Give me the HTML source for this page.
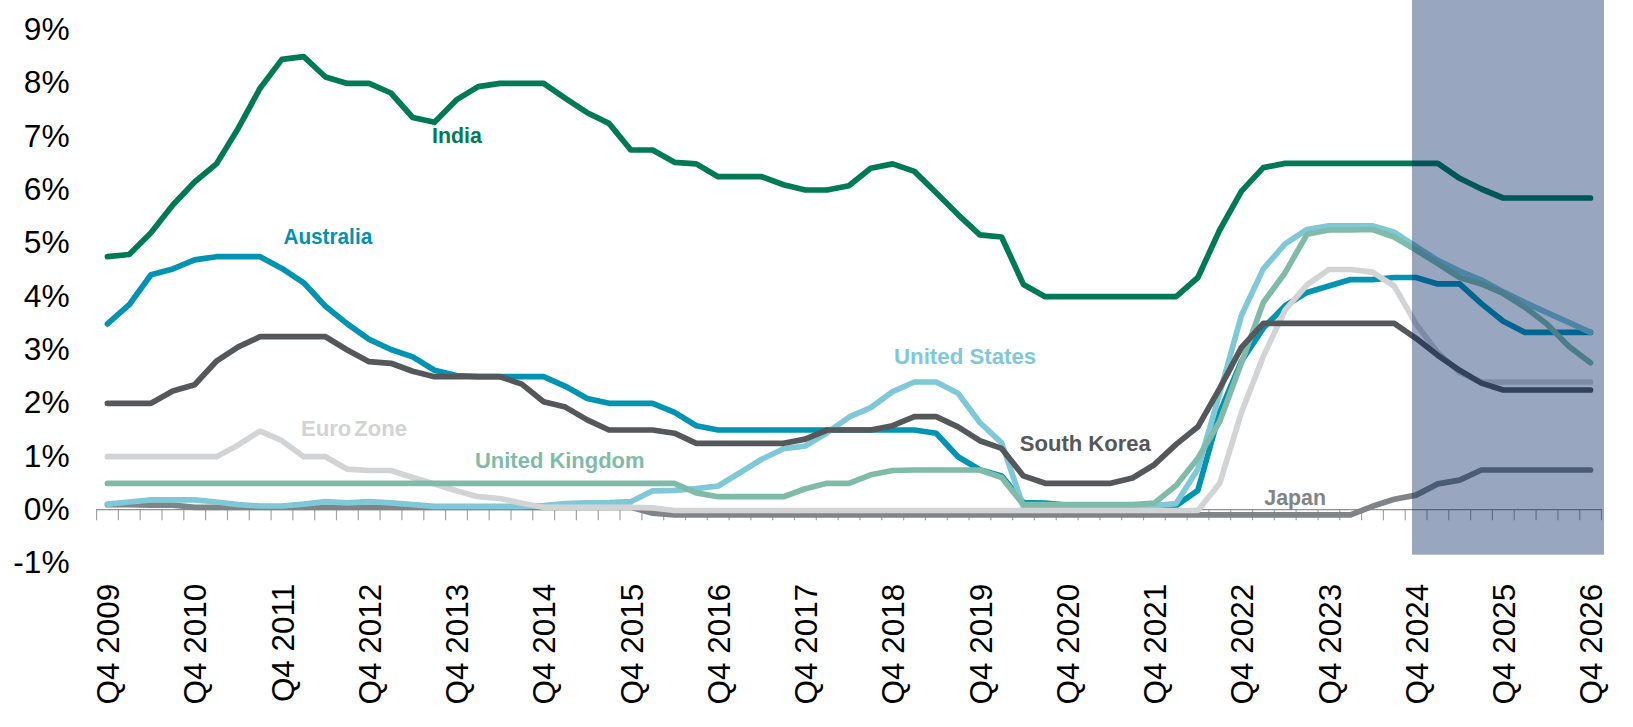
<!DOCTYPE html><html><head><meta charset="utf-8"><title>Policy rates</title><style>html,body{margin:0;padding:0;background:#fff}svg{display:block}</style></head><body><svg width="1633" height="727" viewBox="0 0 1633 727" font-family="'Liberation Sans', sans-serif">
<rect width="1633" height="727" fill="#fff"/>
<path d="M96.6 509.6V520.2M118.4 509.6V520.2M140.2 509.6V520.2M162.0 509.6V520.2M183.8 509.6V520.2M205.6 509.6V520.2M227.5 509.6V520.2M249.3 509.6V520.2M271.1 509.6V520.2M292.9 509.6V520.2M314.7 509.6V520.2M336.5 509.6V520.2M358.3 509.6V520.2M380.1 509.6V520.2M401.9 509.6V520.2M423.8 509.6V520.2M445.6 509.6V520.2M467.4 509.6V520.2M489.2 509.6V520.2M511.0 509.6V520.2M532.8 509.6V520.2M554.6 509.6V520.2M576.4 509.6V520.2M598.2 509.6V520.2M620.0 509.6V520.2M641.9 509.6V520.2M663.7 509.6V520.2M685.5 509.6V520.2M707.3 509.6V520.2M729.1 509.6V520.2M750.9 509.6V520.2M772.7 509.6V520.2M794.5 509.6V520.2M816.3 509.6V520.2M838.1 509.6V520.2M859.9 509.6V520.2M881.8 509.6V520.2M903.6 509.6V520.2M925.4 509.6V520.2M947.2 509.6V520.2M969.0 509.6V520.2M990.8 509.6V520.2M1012.6 509.6V520.2M1034.4 509.6V520.2M1056.2 509.6V520.2M1078.0 509.6V520.2M1099.9 509.6V520.2M1121.7 509.6V520.2M1143.5 509.6V520.2M1165.3 509.6V520.2M1187.1 509.6V520.2M1208.9 509.6V520.2M1230.7 509.6V520.2M1252.5 509.6V520.2M1274.3 509.6V520.2M1296.1 509.6V520.2M1318.0 509.6V520.2M1339.8 509.6V520.2M1361.6 509.6V520.2M1383.4 509.6V520.2M1405.2 509.6V520.2M1427.0 509.6V520.2M1448.8 509.6V520.2M1470.6 509.6V520.2M1492.4 509.6V520.2M1514.2 509.6V520.2M1536.1 509.6V520.2M1557.9 509.6V520.2M1579.7 509.6V520.2M1601.5 509.6V520.2" stroke="#a4a4a4" stroke-width="1.2" fill="none"/>
<path d="M96.1 509.6H1602.1" stroke="#909090" stroke-width="1.1" fill="none"/>
<polyline points="107.4,504.7 129.2,504.7 151.0,505.2 172.8,505.2 194.6,507.3 216.4,507.3 238.3,507.3 260.1,507.3 281.9,507.3 303.7,507.3 325.5,507.3 347.3,507.3 369.1,507.3 390.9,507.3 412.7,507.3 434.5,507.3 456.4,507.3 478.2,507.3 500.0,507.3 521.8,507.3 543.6,507.3 565.4,507.3 587.2,507.3 609.0,507.3 630.8,507.3 652.6,513.2 674.5,514.8 696.3,514.8 718.1,514.8 739.9,514.8 761.7,514.8 783.5,514.8 805.3,514.8 827.1,514.8 848.9,514.8 870.7,514.8 892.6,514.8 914.4,514.8 936.2,514.8 958.0,514.8 979.8,514.8 1001.6,514.8 1023.4,514.8 1045.2,514.8 1067.0,514.8 1088.8,514.8 1110.7,514.8 1132.5,514.8 1154.3,514.8 1176.1,514.8 1197.9,514.8 1219.7,514.8 1241.5,514.8 1263.3,514.8 1285.1,514.8 1307.0,514.8 1328.8,514.8 1350.6,514.8 1372.4,506.3 1394.2,499.3 1416.0,495.1 1437.8,483.9 1459.6,480.1 1481.4,470.0 1503.2,470.0 1525.0,470.0 1546.9,470.0 1568.7,470.0 1590.5,470.0" fill="none" stroke="#7f8486" stroke-width="5.7" stroke-linecap="round" stroke-linejoin="round"/>
<polyline points="107.4,323.9 129.2,304.7 151.0,274.8 172.8,268.9 194.6,259.9 216.4,256.7 238.3,256.7 260.1,256.7 281.9,268.4 303.7,282.8 325.5,306.3 347.3,323.9 369.1,339.3 390.9,349.5 412.7,356.9 434.5,370.3 456.4,375.6 478.2,376.7 500.0,376.7 521.8,376.7 543.6,376.7 565.4,386.3 587.2,398.5 609.0,403.3 630.8,403.3 652.6,403.3 674.5,412.4 696.3,425.7 718.1,430.0 739.9,430.0 761.7,430.0 783.5,430.0 805.3,430.0 827.1,430.0 848.9,430.0 870.7,430.0 892.6,430.0 914.4,430.0 936.2,433.2 958.0,456.7 979.8,469.7 1001.6,475.9 1023.4,502.5 1045.2,503.1 1067.0,505.2 1088.8,507.3 1110.7,507.3 1132.5,507.3 1154.3,507.3 1176.1,505.7 1197.9,490.3 1219.7,412.4 1241.5,361.2 1263.3,328.1 1285.1,305.7 1307.0,292.4 1328.8,286.0 1350.6,279.6 1372.4,279.6 1394.2,277.5 1416.0,277.5 1437.8,283.9 1459.6,283.9 1481.4,303.6 1503.2,321.2 1525.0,332.4 1546.9,332.4 1568.7,332.4 1590.5,332.4" fill="none" stroke="#0093b2" stroke-width="5.7" stroke-linecap="round" stroke-linejoin="round"/>
<polyline points="107.4,504.1 129.2,502.0 151.0,499.9 172.8,499.9 194.6,499.9 216.4,502.0 238.3,504.7 260.1,506.0 281.9,506.0 303.7,504.1 325.5,501.6 347.3,502.8 369.1,501.6 390.9,502.8 412.7,504.7 434.5,506.3 456.4,506.3 478.2,506.3 500.0,506.3 521.8,506.3 543.6,505.7 565.4,503.6 587.2,502.8 609.0,502.5 630.8,501.7 652.6,490.8 674.5,490.3 696.3,488.7 718.1,486.0 739.9,472.7 761.7,459.3 783.5,448.7 805.3,446.0 827.1,432.7 848.9,417.2 870.7,407.6 892.6,391.6 914.4,382.0 936.2,382.0 958.0,393.2 979.8,422.5 1001.6,442.8 1023.4,506.8 1045.2,505.2 1067.0,505.2 1088.8,505.7 1110.7,506.3 1132.5,505.2 1154.3,505.7 1176.1,503.6 1197.9,468.9 1219.7,393.2 1241.5,315.3 1263.3,268.9 1285.1,243.9 1307.0,229.5 1328.8,225.8 1350.6,225.8 1372.4,225.8 1394.2,232.2 1416.0,246.3 1437.8,260.4 1459.6,271.1 1481.4,280.1 1503.2,291.9 1525.0,302.5 1546.9,312.7 1568.7,322.3 1590.5,332.4" fill="none" stroke="#7fc8d8" stroke-width="5.7" stroke-linecap="round" stroke-linejoin="round"/>
<polyline points="107.4,456.7 129.2,456.7 151.0,456.7 172.8,456.7 194.6,456.7 216.4,456.7 238.3,444.9 260.1,431.1 281.9,440.7 303.7,456.7 325.5,456.7 347.3,469.2 369.1,470.5 390.9,470.5 412.7,477.5 434.5,483.9 456.4,490.8 478.2,496.7 500.0,498.5 521.8,503.2 543.6,507.3 565.4,507.3 587.2,507.3 609.0,507.3 630.8,507.3 652.6,507.9 674.5,510.5 696.3,510.5 718.1,510.5 739.9,510.5 761.7,510.5 783.5,510.5 805.3,510.5 827.1,510.5 848.9,510.5 870.7,510.5 892.6,510.5 914.4,510.5 936.2,510.5 958.0,510.5 979.8,510.5 1001.6,510.5 1023.4,510.5 1045.2,510.5 1067.0,510.5 1088.8,510.5 1110.7,510.5 1132.5,510.5 1154.3,510.5 1176.1,510.5 1197.9,510.5 1219.7,483.3 1241.5,412.4 1263.3,356.4 1285.1,310.0 1307.0,284.9 1328.8,269.5 1350.6,269.5 1372.4,272.1 1394.2,286.0 1416.0,323.9 1437.8,352.7 1459.6,372.4 1481.4,382.0 1503.2,382.0 1525.0,382.0 1546.9,382.0 1568.7,382.0 1590.5,382.0" fill="none" stroke="#d2d3d5" stroke-width="5.7" stroke-linecap="round" stroke-linejoin="round"/>
<polyline points="107.4,483.3 129.2,483.3 151.0,483.3 172.8,483.3 194.6,483.3 216.4,483.3 238.3,483.3 260.1,483.3 281.9,483.3 303.7,483.3 325.5,483.3 347.3,483.3 369.1,483.3 390.9,483.3 412.7,483.3 434.5,483.3 456.4,483.3 478.2,483.3 500.0,483.3 521.8,483.3 543.6,483.3 565.4,483.3 587.2,483.3 609.0,483.3 630.8,483.3 652.6,483.3 674.5,483.3 696.3,492.9 718.1,496.7 739.9,496.7 761.7,496.7 783.5,496.7 805.3,488.7 827.1,483.3 848.9,483.3 870.7,474.8 892.6,470.5 914.4,470.0 936.2,470.0 958.0,470.0 979.8,470.0 1001.6,477.5 1023.4,504.7 1045.2,504.7 1067.0,504.7 1088.8,504.7 1110.7,504.7 1132.5,504.7 1154.3,503.1 1176.1,485.5 1197.9,458.3 1219.7,421.5 1241.5,362.8 1263.3,302.5 1285.1,272.7 1307.0,234.3 1328.8,230.0 1350.6,230.0 1372.4,229.5 1394.2,237.0 1416.0,250.0 1437.8,263.6 1459.6,277.5 1481.4,283.9 1503.2,293.5 1525.0,307.3 1546.9,323.9 1568.7,346.3 1590.5,362.8" fill="none" stroke="#7fbba8" stroke-width="5.7" stroke-linecap="round" stroke-linejoin="round"/>
<polyline points="107.4,403.3 129.2,403.3 151.0,403.3 172.8,391.1 194.6,384.7 216.4,361.2 238.3,346.8 260.1,336.7 281.9,336.7 303.7,336.7 325.5,336.7 347.3,350.0 369.1,361.7 390.9,363.3 412.7,371.3 434.5,376.7 456.4,376.7 478.2,376.7 500.0,376.7 521.8,384.1 543.6,401.7 565.4,407.1 587.2,419.9 609.0,430.0 630.8,430.0 652.6,430.0 674.5,433.2 696.3,443.3 718.1,443.3 739.9,443.3 761.7,443.3 783.5,443.3 805.3,439.1 827.1,430.0 848.9,430.0 870.7,430.0 892.6,425.7 914.4,416.7 936.2,416.7 958.0,426.8 979.8,440.7 1001.6,448.4 1023.4,475.9 1045.2,483.3 1067.0,483.3 1088.8,483.3 1110.7,483.3 1132.5,478.0 1154.3,464.7 1176.1,444.4 1197.9,426.8 1219.7,388.4 1241.5,347.3 1263.3,323.3 1285.1,323.3 1307.0,323.3 1328.8,323.3 1350.6,323.3 1372.4,323.3 1394.2,323.3 1416.0,338.3 1437.8,355.3 1459.6,370.3 1481.4,383.1 1503.2,390.0 1525.0,390.0 1546.9,390.0 1568.7,390.0 1590.5,390.0" fill="none" stroke="#54585a" stroke-width="5.7" stroke-linecap="round" stroke-linejoin="round"/>
<polyline points="107.4,256.7 129.2,254.5 151.0,232.7 172.8,205.0 194.6,182.0 216.4,163.9 238.3,128.2 260.1,88.2 281.9,59.4 303.7,56.7 325.5,77.0 347.3,83.4 369.1,83.4 390.9,93.0 412.7,117.5 434.5,122.3 456.4,99.9 478.2,86.6 500.0,83.4 521.8,83.4 543.6,83.4 565.4,98.3 587.2,112.7 609.0,123.4 630.8,150.0 652.6,150.0 674.5,162.3 696.3,163.9 718.1,176.7 739.9,176.7 761.7,176.7 783.5,184.7 805.3,190.0 827.1,190.0 848.9,185.8 870.7,168.2 892.6,163.9 914.4,171.4 936.2,192.7 958.0,214.6 979.8,234.8 1001.6,237.0 1023.4,284.4 1045.2,296.7 1067.0,296.7 1088.8,296.7 1110.7,296.7 1132.5,296.7 1154.3,296.7 1176.1,296.7 1197.9,277.5 1219.7,230.0 1241.5,191.1 1263.3,167.6 1285.1,163.4 1307.0,163.4 1328.8,163.4 1350.6,163.4 1372.4,163.4 1394.2,163.4 1416.0,163.4 1437.8,163.4 1459.6,178.3 1481.4,189.0 1503.2,198.0 1525.0,198.0 1546.9,198.0 1568.7,198.0 1590.5,198.0" fill="none" stroke="#007a55" stroke-width="5.7" stroke-linecap="round" stroke-linejoin="round"/>
<text x="69.6" y="573.1" font-size="30.5" text-anchor="end" textLength="56.3" lengthAdjust="spacingAndGlyphs" fill="#000">-1%</text>
<text x="69.6" y="519.8" font-size="30.5" text-anchor="end" textLength="45.8" lengthAdjust="spacingAndGlyphs" fill="#000">0%</text>
<text x="69.6" y="466.5" font-size="30.5" text-anchor="end" textLength="45.8" lengthAdjust="spacingAndGlyphs" fill="#000">1%</text>
<text x="69.6" y="413.2" font-size="30.5" text-anchor="end" textLength="45.8" lengthAdjust="spacingAndGlyphs" fill="#000">2%</text>
<text x="69.6" y="359.9" font-size="30.5" text-anchor="end" textLength="45.8" lengthAdjust="spacingAndGlyphs" fill="#000">3%</text>
<text x="69.6" y="306.6" font-size="30.5" text-anchor="end" textLength="45.8" lengthAdjust="spacingAndGlyphs" fill="#000">4%</text>
<text x="69.6" y="253.3" font-size="30.5" text-anchor="end" textLength="45.8" lengthAdjust="spacingAndGlyphs" fill="#000">5%</text>
<text x="69.6" y="200.0" font-size="30.5" text-anchor="end" textLength="45.8" lengthAdjust="spacingAndGlyphs" fill="#000">6%</text>
<text x="69.6" y="146.7" font-size="30.5" text-anchor="end" textLength="45.8" lengthAdjust="spacingAndGlyphs" fill="#000">7%</text>
<text x="69.6" y="93.4" font-size="30.5" text-anchor="end" textLength="45.8" lengthAdjust="spacingAndGlyphs" fill="#000">8%</text>
<text x="69.6" y="40.1" font-size="30.5" text-anchor="end" textLength="45.8" lengthAdjust="spacingAndGlyphs" fill="#000">9%</text>
<text transform="translate(119.2,583.9) rotate(-90)" font-size="30.5" text-anchor="end" textLength="120.5" lengthAdjust="spacingAndGlyphs" fill="#000">Q4 2009</text>
<text transform="translate(206.4,583.9) rotate(-90)" font-size="30.5" text-anchor="end" textLength="120.5" lengthAdjust="spacingAndGlyphs" fill="#000">Q4 2010</text>
<text transform="translate(293.7,583.9) rotate(-90)" font-size="30.5" text-anchor="end" textLength="118.2" lengthAdjust="spacingAndGlyphs" fill="#000">Q4 2011</text>
<text transform="translate(380.9,583.9) rotate(-90)" font-size="30.5" text-anchor="end" textLength="120.5" lengthAdjust="spacingAndGlyphs" fill="#000">Q4 2012</text>
<text transform="translate(468.2,583.9) rotate(-90)" font-size="30.5" text-anchor="end" textLength="120.5" lengthAdjust="spacingAndGlyphs" fill="#000">Q4 2013</text>
<text transform="translate(555.4,583.9) rotate(-90)" font-size="30.5" text-anchor="end" textLength="120.5" lengthAdjust="spacingAndGlyphs" fill="#000">Q4 2014</text>
<text transform="translate(642.6,583.9) rotate(-90)" font-size="30.5" text-anchor="end" textLength="120.5" lengthAdjust="spacingAndGlyphs" fill="#000">Q4 2015</text>
<text transform="translate(729.9,583.9) rotate(-90)" font-size="30.5" text-anchor="end" textLength="120.5" lengthAdjust="spacingAndGlyphs" fill="#000">Q4 2016</text>
<text transform="translate(817.1,583.9) rotate(-90)" font-size="30.5" text-anchor="end" textLength="120.5" lengthAdjust="spacingAndGlyphs" fill="#000">Q4 2017</text>
<text transform="translate(904.4,583.9) rotate(-90)" font-size="30.5" text-anchor="end" textLength="120.5" lengthAdjust="spacingAndGlyphs" fill="#000">Q4 2018</text>
<text transform="translate(991.6,583.9) rotate(-90)" font-size="30.5" text-anchor="end" textLength="120.5" lengthAdjust="spacingAndGlyphs" fill="#000">Q4 2019</text>
<text transform="translate(1078.8,583.9) rotate(-90)" font-size="30.5" text-anchor="end" textLength="120.5" lengthAdjust="spacingAndGlyphs" fill="#000">Q4 2020</text>
<text transform="translate(1166.1,583.9) rotate(-90)" font-size="30.5" text-anchor="end" textLength="120.5" lengthAdjust="spacingAndGlyphs" fill="#000">Q4 2021</text>
<text transform="translate(1253.3,583.9) rotate(-90)" font-size="30.5" text-anchor="end" textLength="120.5" lengthAdjust="spacingAndGlyphs" fill="#000">Q4 2022</text>
<text transform="translate(1340.6,583.9) rotate(-90)" font-size="30.5" text-anchor="end" textLength="120.5" lengthAdjust="spacingAndGlyphs" fill="#000">Q4 2023</text>
<text transform="translate(1427.8,583.9) rotate(-90)" font-size="30.5" text-anchor="end" textLength="120.5" lengthAdjust="spacingAndGlyphs" fill="#000">Q4 2024</text>
<text transform="translate(1515.0,583.9) rotate(-90)" font-size="30.5" text-anchor="end" textLength="120.5" lengthAdjust="spacingAndGlyphs" fill="#000">Q4 2025</text>
<text transform="translate(1602.3,583.9) rotate(-90)" font-size="30.5" text-anchor="end" textLength="120.5" lengthAdjust="spacingAndGlyphs" fill="#000">Q4 2026</text>
<text x="432.0" y="142.6" font-size="22.2" font-weight="bold" textLength="49.8" lengthAdjust="spacingAndGlyphs" fill="#007a55">India</text>
<text x="283.4" y="243.7" font-size="22.2" font-weight="bold" textLength="88.8" lengthAdjust="spacingAndGlyphs" fill="#0093b2">Australia</text>
<text x="894.0" y="364.1" font-size="22.2" font-weight="bold" textLength="142.2" lengthAdjust="spacingAndGlyphs" fill="#7fc8d8">United States</text>
<text x="301.0" y="436.0" font-size="22.2" font-weight="bold" textLength="106.0" lengthAdjust="spacingAndGlyphs" word-spacing="-3.2" fill="#d2d3d5">Euro Zone</text>
<text x="475.0" y="467.9" font-size="22.2" font-weight="bold" textLength="169.5" lengthAdjust="spacingAndGlyphs" fill="#7fbba8">United Kingdom</text>
<text x="1019.8" y="451.0" font-size="22.2" font-weight="bold" textLength="130.9" lengthAdjust="spacingAndGlyphs" fill="#54585a">South Korea</text>
<text x="1264.3" y="504.7" font-size="22.2" font-weight="bold" textLength="61.7" lengthAdjust="spacingAndGlyphs" fill="#7f8486">Japan</text>
<rect x="1412" y="0" width="192" height="554.7" fill="rgba(0,32,96,0.4)"/>
</svg></body></html>
